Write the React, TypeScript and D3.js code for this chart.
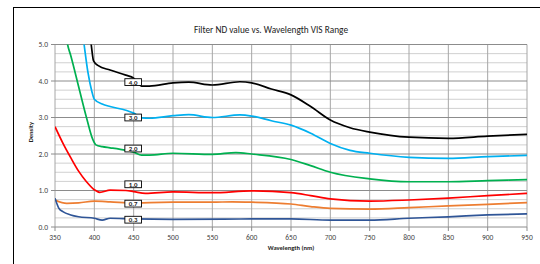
import React from 'react';
import * as d3 from 'd3';

const W = 540;
const H = 264;
const MARGIN = { top: 44.5, right: 13, bottom: 37, left: 55 };

const TITLE = 'Filter ND value vs. Wavelength VIS Range';
const X_TITLE = 'Wavelength (nm)';
const Y_TITLE = 'Density';

const X_TICKS = [350, 400, 450, 500, 550, 600, 650, 700, 750, 800, 850, 900, 950];
const Y_TICKS = [0, 1, 2, 3, 4, 5];
const Y_MINOR = [0.25, 0.5, 0.75, 1.25, 1.5, 1.75, 2.25, 2.5, 2.75, 3.25, 3.5, 3.75, 4.25, 4.5, 4.75];

// measured curves, [wavelength nm, density]
const nd40: [number, number][] = [
  [392, 5.6], [396, 5.0], [399, 4.55], [405, 4.42], [420, 4.3], [440, 4.16], [450, 4.08], [460, 3.86],
  [470, 3.86], [500, 3.95], [520, 3.97], [550, 3.89], [585, 3.98], [600, 3.95], [625, 3.78],
  [650, 3.62], [675, 3.3], [700, 2.93], [725, 2.72], [750, 2.6], [800, 2.46], [850, 2.43],
  [900, 2.49], [950, 2.54],
];
const nd30: [number, number][] = [
  [384, 5.5], [387, 5.0], [392, 4.22], [397, 3.7], [400, 3.5], [410, 3.37], [420, 3.3], [440, 3.2],
  [450, 3.12], [460, 2.99], [470, 2.98], [500, 3.05], [520, 3.08], [550, 3.0], [585, 3.07],
  [600, 3.04], [625, 2.91], [650, 2.79], [675, 2.57], [700, 2.29], [725, 2.1], [750, 2.02],
  [800, 1.91], [850, 1.88], [900, 1.93], [950, 1.96],
];
const nd20: [number, number][] = [
  [363, 5.4], [366, 5.0], [370, 4.7], [380, 3.85], [390, 3.0], [398, 2.4], [402, 2.25], [410, 2.2],
  [420, 2.17], [440, 2.1], [450, 2.05], [460, 1.97], [470, 1.97], [500, 2.02], [550, 1.99],
  [580, 2.04], [600, 2.0], [650, 1.85], [675, 1.68], [700, 1.5], [750, 1.32], [800, 1.24],
  [850, 1.24], [900, 1.27], [950, 1.3],
];
const nd10: [number, number][] = [
  [350, 2.75], [360, 2.3], [370, 1.9], [380, 1.53], [390, 1.24], [400, 1.02], [407, 0.95],
  [420, 1.01], [440, 1.0], [450, 0.97], [465, 0.92], [500, 0.96], [550, 0.94], [600, 0.99],
  [650, 0.94], [675, 0.86], [700, 0.77], [750, 0.71], [800, 0.74], [850, 0.79], [900, 0.86],
  [950, 0.92],
];
const nd07: [number, number][] = [
  [350, 0.74], [365, 0.65], [380, 0.66], [400, 0.71], [420, 0.69], [450, 0.65], [470, 0.67],
  [500, 0.68], [550, 0.68], [575, 0.69], [600, 0.68], [650, 0.63], [675, 0.56], [700, 0.51],
  [750, 0.49], [800, 0.53], [850, 0.58], [900, 0.62], [950, 0.67],
];
const nd03: [number, number][] = [
  [350, 0.79], [355, 0.51], [360, 0.42], [370, 0.33], [380, 0.28], [400, 0.24], [410, 0.19],
  [420, 0.24], [450, 0.22], [500, 0.21], [600, 0.22], [650, 0.22], [700, 0.19], [750, 0.19],
  [800, 0.24], [850, 0.28], [900, 0.33], [950, 0.36],
];

const SERIES = [
  { name: '4.0', color: '#000000', values: nd40 },
  { name: '3.0', color: '#00b0f0', values: nd30 },
  { name: '2.0', color: '#00b050', values: nd20 },
  { name: '1.0', color: '#ff0000', values: nd10 },
  { name: '0.7', color: '#ed7d31', values: nd07 },
  { name: '0.3', color: '#2f5597', values: nd03 },
];

// label box anchors [wavelength, density]
const LABEL_POS: [number, number][] = [
  [450, 3.97], [450, 3.0], [450, 2.15], [450, 1.17], [450, 0.64], [450, 0.2],
];

export default function App() {
  const innerW = W - MARGIN.left - MARGIN.right;
  const innerH = H - MARGIN.top - MARGIN.bottom;
  const x = d3.scaleLinear().domain([350, 950]).range([MARGIN.left, MARGIN.left + innerW]);
  const y = d3.scaleLinear().domain([0, 5]).range([MARGIN.top + innerH, MARGIN.top]);

  const line = d3.line<[number, number]>()
    .x(d => x(d[0]))
    .y(d => y(d[1]))
    .curve(d3.curveMonotoneX);

  const font = "Carlito, 'Open Sans', 'Liberation Sans', sans-serif";

  return (
    <div style={{ position: 'absolute', left: 0, top: 0 }}>
      <svg width={W} height={H} style={{ display: 'block', background: '#fff' }} fontFamily={font}>
        <rect x={13.5} y={7.5} width={W} height={H} fill="#fff" stroke="#000" strokeWidth={1} />
        <text x={271} y={33} textAnchor="middle" fontSize={9.3} fill="#222">{TITLE}</text>

        <defs>
          <clipPath id="plot">
            <rect x={MARGIN.left} y={MARGIN.top} width={innerW} height={innerH} />
          </clipPath>
        </defs>

        {/* minor grid */}
        {Y_MINOR.map(v => (
          <line key={'m' + v} x1={x(350)} x2={x(950)} y1={y(v)} y2={y(v)} stroke="#d0d0d0" strokeWidth={1} />
        ))}
        {X_TICKS.map(v => (
          <line key={'vx' + v} x1={x(v)} x2={x(v)} y1={y(0)} y2={y(5)} stroke="#a6a6a6" strokeWidth={1} />
        ))}
        {Y_TICKS.map(v => (
          <line key={'g' + v} x1={x(350)} x2={x(950)} y1={y(v)} y2={y(v)} stroke="#8c8c8c" strokeWidth={1} />
        ))}

        {/* axes ticks */}
        {Y_TICKS.map(v => (
          <g key={'yt' + v}>
            <line x1={x(350) - 4} x2={x(350)} y1={y(v)} y2={y(v)} stroke="#8c8c8c" />
            <text x={x(350) - 7} y={y(v)} dy="0.35em" textAnchor="end" fontSize={7.5} fill="#444">
              {v.toFixed(1)}
            </text>
          </g>
        ))}
        {X_TICKS.map(v => (
          <g key={'xt' + v}>
            <line x1={x(v)} x2={x(v)} y1={y(0)} y2={y(0) + 4} stroke="#8c8c8c" />
            <text x={x(v)} y={y(0) + 12.5} textAnchor="middle" fontSize={7.5} fill="#444">{v}</text>
          </g>
        ))}

        <text x={291} y={250} textAnchor="middle" fontSize={6.5} fontWeight="bold" fill="#222">{X_TITLE}</text>
        <text transform={`translate(33,${y(2.6)}) rotate(-90)`} textAnchor="middle" fontSize={6.5}
          fontWeight="bold" fill="#222">{Y_TITLE}</text>

        <g clipPath="url(#plot)">
          {SERIES.map(s => (
            <path key={s.name} d={line(s.values) || ''} fill="none" stroke={s.color} strokeWidth={1.7} />
          ))}
        </g>

        {SERIES.map((s, i) => {
          const cx = x(LABEL_POS[i][0]) - 0.5;
          const cy = y(LABEL_POS[i][1]);
          return (
            <g key={'lb' + s.name}>
              <rect x={cx - 8.3} y={cy - 3.4} width={16.6} height={6.8} fill="#fff" stroke="#000" strokeWidth={0.9} />
              <text x={cx} y={cy} dy="0.36em" textAnchor="middle" fontSize={6.8} fontWeight="bold" fill="#222">
                {s.name}
              </text>
            </g>
          );
        })}
      </svg>
    </div>
  );
}
